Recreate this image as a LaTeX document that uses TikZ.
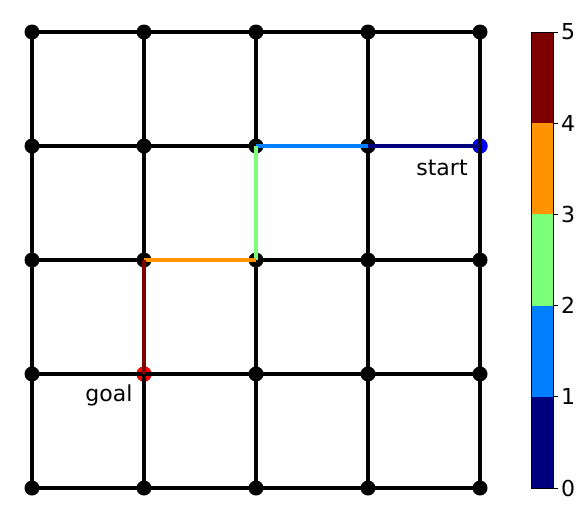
\documentclass[tikz,border=0pt]{standalone}
\usepackage{fontspec}
\setmainfont{DejaVu Sans}
\definecolor{c0}{RGB}{0,0,127}
\definecolor{c1}{RGB}{0,128,255}
\definecolor{c2}{RGB}{124,255,121}
\definecolor{c3}{RGB}{255,148,0}
\definecolor{c4}{RGB}{127,0,0}
\definecolor{startblue}{RGB}{0,0,255}
\definecolor{goalred}{RGB}{255,0,0}
\begin{document}
\begin{tikzpicture}[x=1pt,y=-1pt,
  gridedge/.style={line width=4pt,black},
  pathedge/.style={line width=4pt},
  vtx/.style={circle,fill=black,inner sep=0pt,minimum size=15pt},
  lbl/.style={font=\fontsize{22}{26}\selectfont,inner sep=0pt},
  tick/.style={line width=1pt}]
\useasboundingbox (0,0) rectangle (586,520);
\foreach \i/\x in {0/32,1/144,2/256,3/368,4/480}{
  \foreach \j/\y in {0/32,1/146,2/260,3/374,4/488}{
    \coordinate (p\i\j) at (\x,\y);
  }
}
% vertices (drawn below edges)
\foreach \i in {0,...,4}{
  \foreach \j in {0,...,4}{
    \node[vtx] (n\i\j) at (p\i\j) {};
  }
}
\node[vtx,fill=startblue] (start) at (p41) {};
\node[vtx,fill=goalred] (goal) at (p13) {};
% grid edges
\foreach \i in {0,...,4}{
  \draw[gridedge] (p\i0) -- (p\i4);
  \draw[gridedge] (p0\i) -- (p4\i);
}
% path
\draw[pathedge,c0] (p41) -- (p31);
\draw[pathedge,c1] (p31) -- (p21);
\draw[pathedge,c2] (p21) -- (p22);
\draw[pathedge,c3] (p22) -- (p12);
\draw[pathedge,c4] (p12) -- (p13);
\node[lbl] (startlbl) at (442,168) {start};
\node[lbl] (goallbl) at (109,395) {goal};
% colorbar
\fill[c0] (531,488) rectangle (553,396.8);
\fill[c1] (531,396.8) rectangle (553,305.6);
\fill[c2] (531,305.6) rectangle (553,214.4);
\fill[c3] (531,214.4) rectangle (553,123.2);
\fill[c4] (531,123.2) rectangle (553,32);
\draw[line width=1pt] (531,32) rectangle (553,488);
\foreach \k in {0,...,5}{
  \pgfmathsetmacro{\yy}{488-91.2*\k}
  \draw[tick] (553,\yy) -- (558,\yy);
  \node[lbl,anchor=west] (cb\k) at (561,\yy) {\k};
}
\end{tikzpicture}
\end{document}
